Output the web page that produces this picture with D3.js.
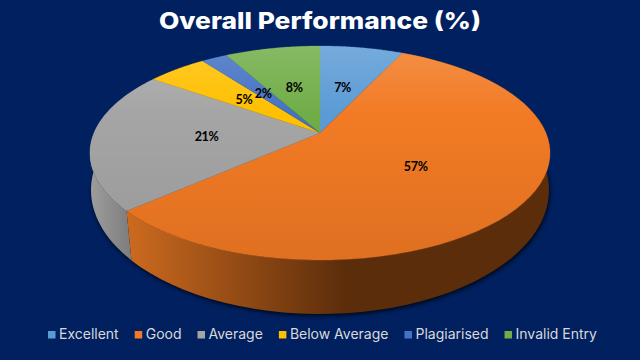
<!DOCTYPE html>
<html>
<head>
<meta charset="utf-8">
<script src="https://cdn.jsdelivr.net/npm/d3@7"></script>
<style>
  html, body { margin: 0; padding: 0; background: #002060; }
  svg { display: block; }
</style>
</head>
<body>
<script>
var categories = ['Excellent', 'Good', 'Average', 'Below Average', 'Plagiarised', 'Invalid Entry'];
var values = [7.0, 56.5, 21.3, 5.0, 2.2, 8.0];
var color = ['#5b9bd5', '#f27a24', '#a5a5a5', '#ffc000', '#4472c4', '#70ad47'];

var width = 640, height = 360;
var cx = 320;
// perspective disc: top face and the bottom rim seen behind it
var topFace = {a: 226, b: 103.3, p: 0.187, y0: 133};
var botFace = {a: 226.4, b: 121.2, p: 0.15, y0: 171.4};

function project(face, t, r) {
  var u = r * Math.sin(t), v = r * Math.cos(t), w = 1 + face.p * v;
  return [cx + face.a * u / w, face.y0 - face.b * v / w];
}

var svg = d3.select('body').append('svg')
  .attr('width', width)
  .attr('height', height);

svg.append('rect').attr('width', width).attr('height', height).attr('fill', '#002060');

var defs = svg.append('defs');

var pie = d3.pie().sort(null).value(d => d)(values);
var line = d3.line();

function arcPoints(face, d) {
  return d3.range(0, 61).map(i => project(face, d.startAngle + (d.endAngle - d.startAngle) * i / 60, 1));
}

// top face shading
var sheen = defs.append('linearGradient').attr('id', 'sheen')
  .attr('gradientUnits', 'userSpaceOnUse')
  .attr('x1', 0).attr('x2', 0).attr('y1', 46).attr('y2', 260);
sheen.append('stop').attr('offset', 0).attr('stop-color', '#fff').attr('stop-opacity', 0.16);
sheen.append('stop').attr('offset', 0.32).attr('stop-color', '#fff').attr('stop-opacity', 0);
sheen.append('stop').attr('offset', 0.33).attr('stop-color', '#000').attr('stop-opacity', 0);
sheen.append('stop').attr('offset', 1).attr('stop-color', '#000').attr('stop-opacity', 0.08);

// wall shading, one gradient per visible slice
var wallStops = {
  1: {x1: 128, x2: 345, from: '#cc6a1f', to: '#5c2d0b'},
  2: {x1: 92, x2: 132, from: '#9c9c9c', to: '#7c7c7c'}
};
Object.keys(wallStops).forEach(function(k) {
  var s = wallStops[k];
  var g = defs.append('linearGradient').attr('id', 'wall' + k)
    .attr('gradientUnits', 'userSpaceOnUse')
    .attr('x1', s.x1).attr('x2', s.x2).attr('y1', 0).attr('y2', 0);
  g.append('stop').attr('offset', 0).attr('stop-color', s.from);
  g.append('stop').attr('offset', 1).attr('stop-color', s.to);
});

var blur = defs.append('filter').attr('id', 'soft')
  .attr('x', '-10%').attr('y', '-10%').attr('width', '120%').attr('height', '120%');
blur.append('feGaussianBlur').attr('stdDeviation', 2);

// shadow under the rim
svg.append('path')
  .attr('d', line(d3.range(0, 121).map(i => project(botFace, i / 120 * 2 * Math.PI, 1))) + 'Z')
  .attr('transform', 'translate(1,2)')
  .attr('fill', '#000')
  .attr('opacity', 0.75)
  .attr('filter', 'url(#soft)');

// walls
svg.append('g').selectAll('path')
  .data(pie.filter(d => wallStops[d.index]))
  .enter()
  .append('path')
  .attr('d', d => line(arcPoints(topFace, d).concat(arcPoints(botFace, d).reverse())) + 'Z')
  .attr('fill', d => `url(#wall${d.index})`);

function slicePath(d) {
  return line([project(topFace, 0, 0)].concat(arcPoints(topFace, d))) + 'Z';
}

// top face
var slices = svg.append('g');
slices.selectAll('.slice')
  .data(pie)
  .enter()
  .append('path')
  .attr('class', 'slice')
  .attr('d', slicePath)
  .attr('fill', (d, i) => color[i])
  .attr('stroke', (d, i) => color[i])
  .attr('stroke-width', 0.3);
slices.selectAll('.sheen')
  .data(pie)
  .enter()
  .append('path')
  .attr('class', 'sheen')
  .attr('d', slicePath)
  .attr('fill', 'url(#sheen)');

// data labels
svg.append('g').selectAll('text')
  .data(pie)
  .enter()
  .append('text')
  .attr('transform', function(d) {
    var p = project(topFace, (d.startAngle + d.endAngle) / 2, 0.5);
    return `translate(${p[0]},${p[1]})`;
  })
  .attr('dy', '0.42em')
  .attr('text-anchor', 'middle')
  .style('font', 'bold 12.5px Lato, sans-serif')
  .style('letter-spacing', '-0.3px')
  .attr('fill', '#000')
  .text(d => Math.round(d.value) + '%');

svg.append('text')
  .attr('x', 320)
  .attr('y', 29)
  .attr('text-anchor', 'middle')
  .attr('textLength', 322)
  .attr('lengthAdjust', 'spacingAndGlyphs')
  .style('font', '800 23px Inter, sans-serif')
  .attr('fill', '#fff')
  .text('Overall Performance (%)');

// legend, laid out from the measured label widths
var legend = svg.append('g');
var lx = 48;
categories.forEach(function(name, i) {
  legend.append('rect')
    .attr('x', lx).attr('y', 331)
    .attr('width', 7.5).attr('height', 7.5)
    .attr('fill', color[i]);
  var t = legend.append('text')
    .attr('x', lx + 11).attr('y', 339)
    .style('font', '14px Inter, sans-serif')
    .attr('fill', '#d9d9d9')
    .text(name);
  lx += 11 + t.node().getComputedTextLength() + 16;
});
</script>
</body>
</html>
